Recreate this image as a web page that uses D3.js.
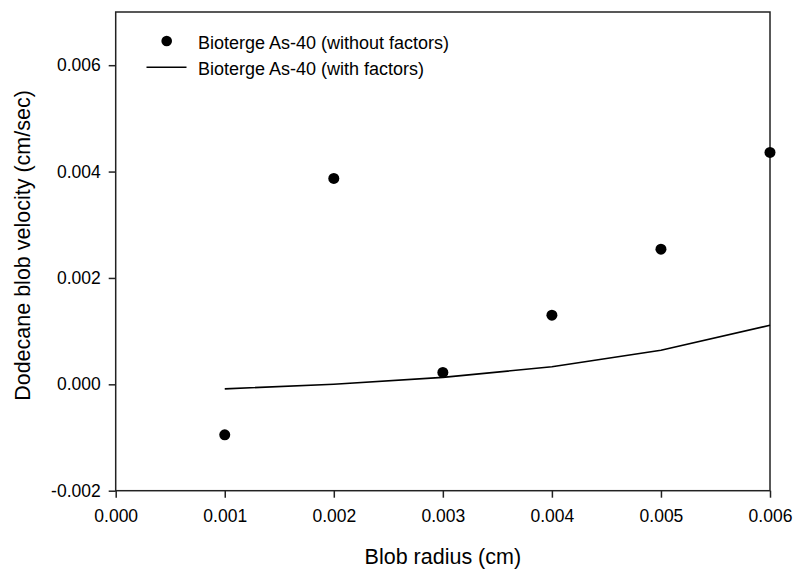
<!DOCTYPE html>
<html>
<head>
<meta charset="utf-8">
<script src="https://cdn.jsdelivr.net/npm/d3@7"></script>
<style>
  body { margin: 0; background: #fff; }
  text { font-family: "Liberation Sans", Arial, sans-serif; fill: #000; }
</style>
</head>
<body>
<svg id="chart" width="796" height="569"></svg>
<script>
// data
var radius = [0.001, 0.002, 0.003, 0.004, 0.005, 0.006];
var withoutFactors = [-0.00095, 0.00387, 0.000224, 0.0013, 0.00254, 0.00436];
var withFactors = [-0.000085, 0.0, 0.00013, 0.00033, 0.00064, 0.00111];
var xTicks = [0, 0.001, 0.002, 0.003, 0.004, 0.005, 0.006];
var yTicks = [-0.002, 0, 0.002, 0.004, 0.006];
var seriesNames = ["Bioterge As-40 (without factors)", "Bioterge As-40 (with factors)"];

var svg = d3.select("#chart");
// plot box (note: "top" is taken by window.top, so use other names)
var plotL = 115.7, plotR = 770, plotT = 12, plotB = 490.7;

var x = d3.scaleLinear().domain([0, 0.006]).range([plotL, plotR]);
var y = d3.scaleLinear().domain([-0.002, 0.007]).range([plotB, plotT]);

// plain hyphen for negatives, like the original
var fmt = function(d) { return d3.format(".3f")(d).replace("\u2212", "-"); };

// frame
svg.append("rect")
  .attr("x", plotL).attr("y", plotT)
  .attr("width", plotR - plotL).attr("height", plotB - plotT)
  .attr("fill", "none").attr("stroke", "#222").attr("stroke-width", 1.5);

var xAxis = d3.axisBottom(x).tickValues(xTicks).tickFormat(fmt)
  .tickSizeInner(7).tickSizeOuter(0).tickPadding(12);
var gx = svg.append("g")
  .attr("transform", "translate(0," + plotB + ")")
  .call(xAxis);

var yAxis = d3.axisLeft(y).tickValues(yTicks).tickFormat(fmt)
  .tickSizeInner(7).tickSizeOuter(0).tickPadding(8);
var gy = svg.append("g")
  .attr("transform", "translate(" + plotL + ",0)")
  .call(yAxis);

[gx, gy].forEach(function(g) {
  g.select(".domain").remove();
  g.selectAll("line").attr("stroke", "#222").attr("stroke-width", 1.5);
  g.selectAll("text").style("font-size", "17.5px").style("font-family", "Liberation Sans, Arial, sans-serif");
});

// line series
var line = d3.line()
  .x(function(d, i) { return x(radius[i]); })
  .y(function(d) { return y(d); });

svg.append("path")
  .datum(withFactors)
  .attr("d", line)
  .attr("fill", "none")
  .attr("stroke", "#000")
  .attr("stroke-width", 1.6);

// scatter series
svg.append("g")
  .selectAll("circle")
  .data(withoutFactors)
  .enter().append("circle")
  .attr("cx", function(d, i) { return x(radius[i]); })
  .attr("cy", function(d) { return y(d); })
  .attr("r", 5.5)
  .attr("fill", "#000");

// legend
var legend = svg.append("g");
legend.append("circle").attr("cx", 166.7).attr("cy", 41).attr("r", 5.3).attr("fill", "#000");
legend.append("line").attr("x1", 146.5).attr("x2", 186.5).attr("y1", 67.3).attr("y2", 67.3)
  .attr("stroke", "#000").attr("stroke-width", 1.5);
legend.selectAll("text")
  .data(seriesNames)
  .enter().append("text")
  .attr("x", 198)
  .attr("y", function(d, i) { return 49 + i * 26; })
  .style("font-size", "18px")
  .text(function(d) { return d; });

// axis titles
svg.append("text")
  .attr("x", (plotL + plotR) / 2)
  .attr("y", 564)
  .attr("text-anchor", "middle")
  .style("font-size", "21.5px")
  .text("Blob radius (cm)");

svg.append("text")
  .attr("transform", "translate(30," + 245.5 + ") rotate(-90)")
  .attr("text-anchor", "middle")
  .style("font-size", "21.5px")
  .text("Dodecane blob velocity (cm/sec)");
</script>
</body>
</html>
